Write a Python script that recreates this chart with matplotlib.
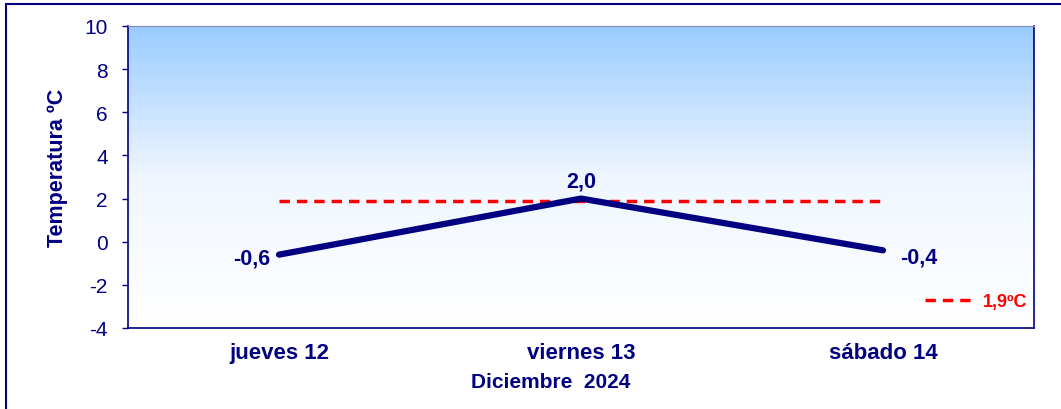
import matplotlib.pyplot as plt
import numpy as np
from matplotlib.lines import Line2D
from matplotlib.patches import Rectangle
from matplotlib.colors import LinearSegmentedColormap

dias = ['jueves 12', 'viernes 13', 'sábado 14']
temperaturas = [-0.6, 2.0, -0.4]
media = 1.9
etiquetas = ['-0,6', '2,0', '-0,4']
yticks = [-4, -2, 0, 2, 4, 6, 8, 10]

AZUL = '#000080'
ROJO = '#ff0000'
W, H = 1061, 410


def main():
    plt.rcParams['font.family'] = ['Liberation Sans', 'DejaVu Sans']
    fig = plt.figure(figsize=(W / 100, H / 100), dpi=100)

    # marco exterior
    fig.patches.append(Rectangle((5.5 / W, -0.05), 1.1, 1 - 4.5 / H + 0.05,
                                 transform=fig.transFigure, fill=False,
                                 edgecolor=AZUL, linewidth=1.5))

    ax = fig.add_axes([128 / W, 1 - 329 / H, 906 / W, 302 / H])
    x = np.arange(len(dias))

    # fondo degradado
    grad = np.linspace(0, 1, 256).reshape(-1, 1)
    cmap = LinearSegmentedColormap.from_list('fondo', ['#ffffff', '#f0f6ff', '#99ccff'])
    ax.imshow(grad, aspect='auto', cmap=cmap, origin='lower',
              extent=[-0.5, 2.5, -4, 10], zorder=0)

    ax.plot(x, temperaturas, color=AZUL, linewidth=4.5, solid_capstyle='round', zorder=3)
    ax.plot(x, [media] * len(x), color=ROJO, linewidth=2.5, linestyle=(0, (3, 2)), zorder=2)

    ax.text(x[0] - 0.03, temperaturas[0] - 0.14, etiquetas[0], ha='right', va='center',
            fontsize=15.5, fontweight='bold', color=AZUL)
    ax.text(x[1], temperaturas[1] + 0.8, etiquetas[1], ha='center', va='center',
            fontsize=15.5, fontweight='bold', color=AZUL)
    ax.text(x[2] + 0.056, temperaturas[2] - 0.33, etiquetas[2], ha='left', va='center',
            fontsize=15.5, fontweight='bold', color=AZUL)

    # leyenda
    ax.legend([Line2D([0], [0], color=ROJO, linewidth=2.5, linestyle=(0, (3, 2)))],
              ['1,9ºC'], loc='center left', frameon=False, handlelength=2.9,
              handletextpad=0.33, borderpad=0, borderaxespad=0,
              bbox_to_anchor=((925 - 128) / 906, (329 - 303) / 302),
              prop={'weight': 'bold', 'size': 13}, labelcolor=ROJO)

    ax.set_xlim(-0.5, 2.5)
    ax.set_ylim(-4, 10)
    ax.set_yticks(yticks)
    ax.set_yticklabels([str(v) for v in yticks], fontsize=15, color=AZUL)
    ax.set_xticks(x)
    ax.set_xticklabels(dias, fontsize=16, fontweight='bold', color=AZUL)
    ax.tick_params(axis='x', length=0, pad=10)
    ax.tick_params(axis='y', length=4.5, width=1, color=AZUL, pad=10)

    fig.text(551 / W, 1 - 383 / H, 'Diciembre  2024', ha='center', va='center',
             fontsize=15, fontweight='bold', color=AZUL)
    fig.text(58 / W, 1 - 168 / H, 'Temperatura ºC', ha='center', va='center',
             rotation=90, fontsize=15.5, fontweight='bold', color=AZUL)

    for s in ['left', 'right', 'bottom']:
        ax.spines[s].set_color(AZUL)
        ax.spines[s].set_linewidth(1.2)
    ax.spines['top'].set_color('#8888bb')

    fig.savefig('out.png', dpi=100)


if __name__ == '__main__':
    main()
